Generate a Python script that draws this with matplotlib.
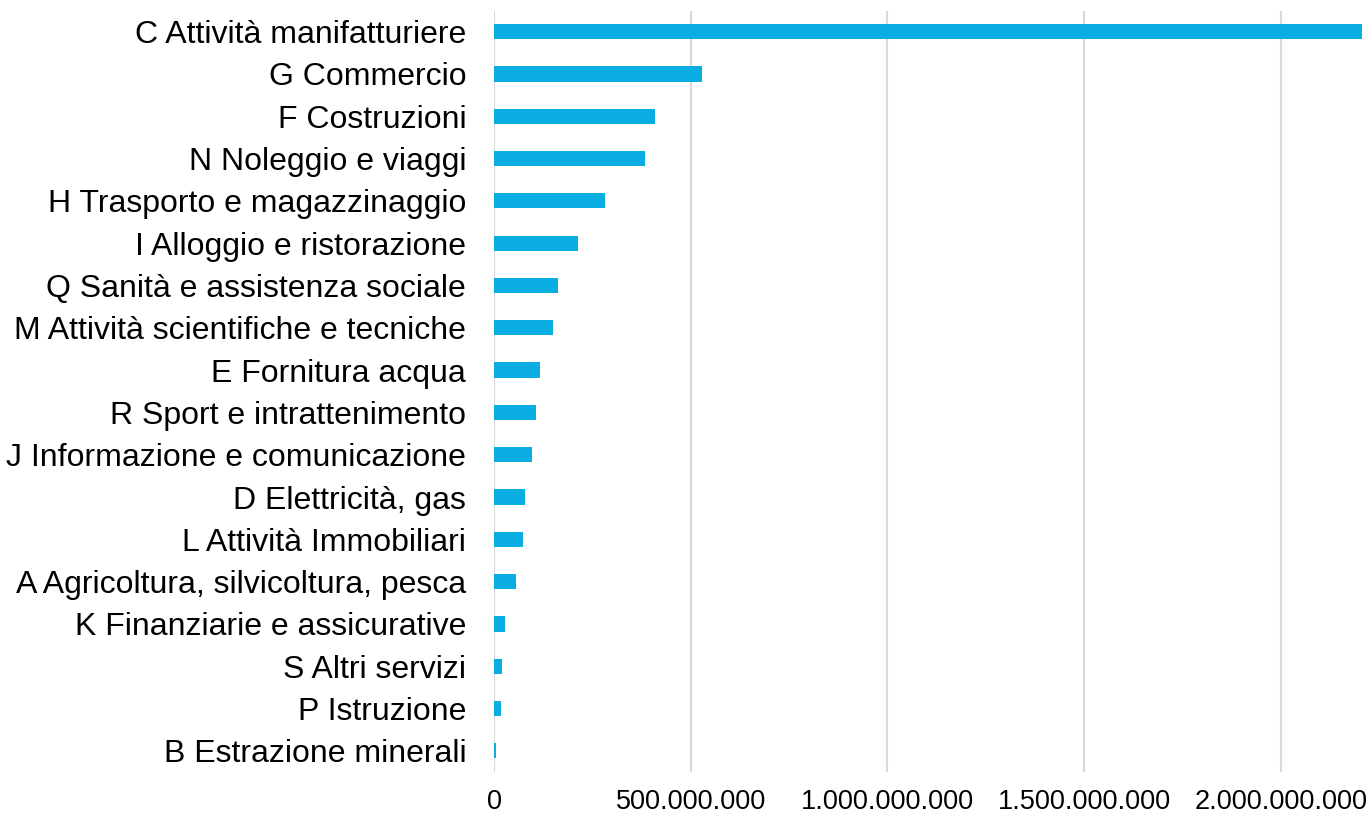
import matplotlib
matplotlib.use("Agg")
import matplotlib.pyplot as plt
from matplotlib.ticker import FuncFormatter

plt.rcParams['font.family'] = ['Liberation Sans', 'DejaVu Sans']

settori = [
    "C Attività manifatturiere",
    "G Commercio",
    "F Costruzioni",
    "N Noleggio e viaggi",
    "H Trasporto e magazzinaggio",
    "I Alloggio e ristorazione",
    "Q Sanità e assistenza sociale",
    "M Attività scientifiche e tecniche",
    "E Fornitura acqua",
    "R Sport e intrattenimento",
    "J Informazione e comunicazione",
    "D Elettricità, gas",
    "L Attività Immobiliari",
    "A Agricoltura, silvicoltura, pesca",
    "K Finanziarie e assicurative",
    "S Altri servizi",
    "P Istruzione",
    "B Estrazione minerali",
]
valori = [2205e6, 529e6, 410e6, 385e6, 282e6, 213e6, 162e6, 150e6, 117e6,
          108e6, 97e6, 78e6, 73e6, 56e6, 27e6, 21e6, 18e6, 5e6]
x_ticks = [0, 500e6, 1000e6, 1500e6, 2000e6]

fig = plt.figure(figsize=(13.7, 8.14), dpi=100)
ax = fig.add_axes([494 / 1370, 1 - 772 / 814, (1361.5 - 494) / 1370, (772 - 10.5) / 814])

pos = list(range(len(settori)))
ax.barh(pos, valori, height=0.36, color='#09ADE1', zorder=3)
ax.set_yticks(pos)
ax.set_yticklabels(settori, fontsize=23)
ax.set_ylim(len(settori) - 0.5, -0.5)
ax.set_xlim(0, 2205e6)
ax.set_xticks(x_ticks)
ax.xaxis.set_major_formatter(FuncFormatter(lambda v, p: f"{int(v):,}".replace(",", ".")))
ax.tick_params(axis='x', labelsize=19.5, length=0, pad=12)
ax.tick_params(axis='y', length=0, pad=20)
ax.grid(axis='x', color='#D9D9D9', linewidth=1.5, zorder=0)
for s in ax.spines.values():
    s.set_visible(False)

fig.savefig("out.png", dpi=100)
